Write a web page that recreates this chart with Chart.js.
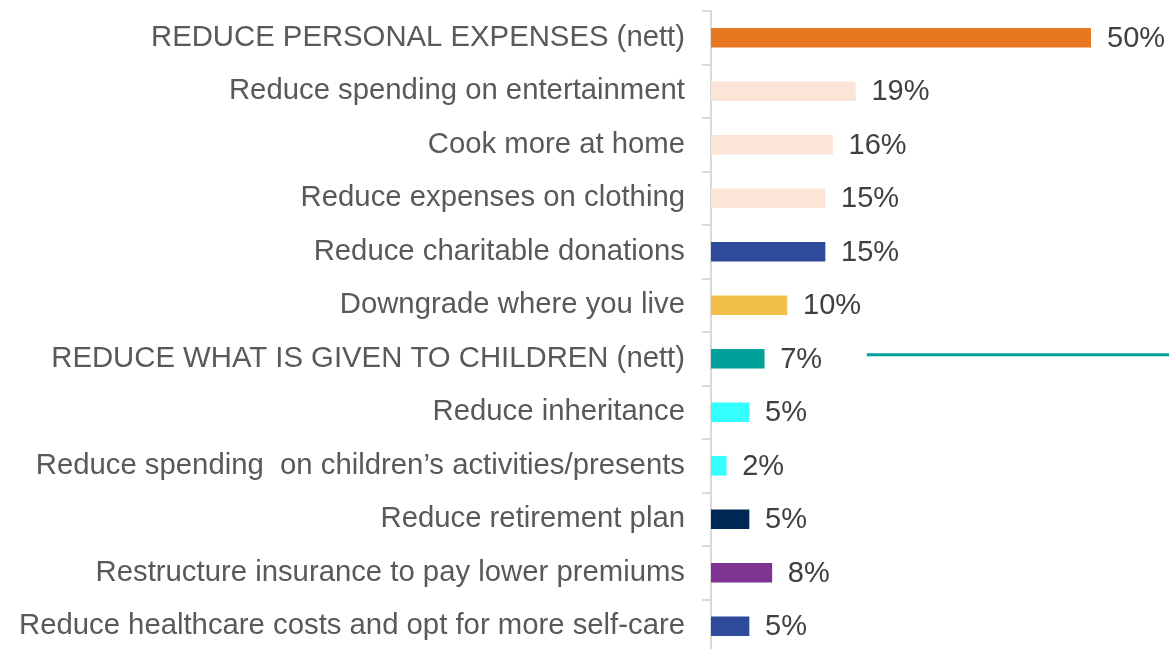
<!DOCTYPE html>
<html>
<head>
<meta charset="utf-8">
<script src="https://cdn.jsdelivr.net/npm/chart.js@4.4.0/dist/chart.umd.min.js"></script>
<style>
html,body{margin:0;padding:0;background:#fff;overflow:hidden;}
#wrap{position:relative;width:1169px;height:656px;}
</style>
</head>
<body>
<div id="wrap"><canvas id="c"></canvas></div>
<script>
const categories = [
  "REDUCE PERSONAL EXPENSES (nett)",
  "Reduce spending on entertainment",
  "Cook more at home",
  "Reduce expenses on clothing",
  "Reduce charitable donations",
  "Downgrade where you live",
  "REDUCE WHAT IS GIVEN TO CHILDREN (nett)",
  "Reduce inheritance",
  "Reduce spending  on children\u2019s activities/presents",
  "Reduce retirement plan",
  "Restructure insurance to pay lower premiums",
  "Reduce healthcare costs and opt for more self-care"
];
const values = [50, 19, 16, 15, 15, 10, 7, 5, 2, 5, 8, 5];
const valueLabels = ["50%","19%","16%","15%","15%","10%","7%","5%","2%","5%","8%","5%"];
const barColors = ["#E87722","#FBE5D6","#FBE5D6","#FBE5D6","#2E4A9B","#F2C04A","#00A19A","#33FFFF","#33FFFF","#002855","#7F3393","#2E4A9B"];

const FONT = "'Liberation Sans', Arial, sans-serif";

const labelPlugin = {
  id: 'valueLabels',
  afterDatasetsDraw(chart) {
    const ctx = chart.ctx;
    const meta = chart.getDatasetMeta(0);
    ctx.save();
    ctx.font = "29px " + FONT;
    ctx.fillStyle = "#404040";
    ctx.textAlign = "left";
    ctx.textBaseline = "middle";
    meta.data.forEach((bar, i) => {
      ctx.fillText(valueLabels[i], bar.x + 16, bar.y + 1);
    });
    const xs = chart.scales.x, ys = chart.scales.y;
    const yy = ys.getPixelForValue(6) - 4;
    ctx.strokeStyle = "#00A19A";
    ctx.lineWidth = 3;
    ctx.beginPath();
    ctx.moveTo(xs.getPixelForValue(20.5), yy);
    ctx.lineTo(chart.width, yy);
    ctx.stroke();
    ctx.restore();
  }
};

new Chart(document.getElementById('c'), {
  type: 'bar',
  data: {
    labels: categories,
    datasets: [{
      data: values,
      backgroundColor: barColors,
      barThickness: 19,
      borderWidth: 0
    }]
  },
  options: {
    indexAxis: 'y',
    responsive: true,
    maintainAspectRatio: false,
    animation: false,
    layout: { padding: { top: 11, bottom: 3, right: 78, left: 0 } },
    plugins: { legend: { display: false }, tooltip: { enabled: false } },
    scales: {
      x: { display: false, min: 0, max: 50 },
      y: {
        afterFit(scale) { scale.width = 711; scale.paddingTop = 0; scale.paddingBottom = 0; },
        border: { display: true, color: "#D9D9D9", width: 2 },
        grid: { display: true, drawOnChartArea: false, drawTicks: true, tickLength: 9, color: "#D9D9D9", lineWidth: 2, offset: true },
        ticks: { color: "#595959", font: { family: FONT, size: 29.3 }, padding: 17, autoSkip: false }
      }
    }
  },
  plugins: [labelPlugin]
});
</script>
</body>
</html>
